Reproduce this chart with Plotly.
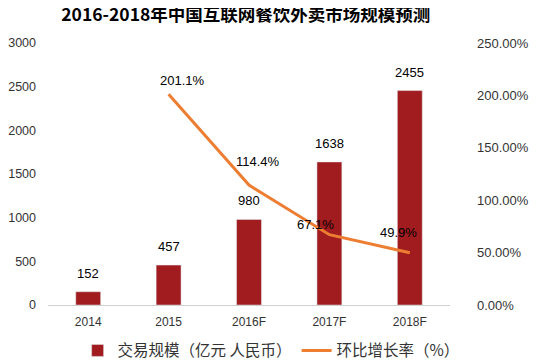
import plotly.graph_objects as go

categories = ["2014", "2015", "2016F", "2017F", "2018F"]
volume = [152, 457, 980, 1638, 2455]
growth_cats = ["2015", "2016F", "2017F", "2018F"]
growth = [201.1, 114.4, 67.1, 49.9]
growth_labels = ["201.1%", "114.4%", "67.1%", "49.9%"]
label_shift = [(14, 14), (9, 24), (-14, 10), (-11, 20)]

BAR = "#A01C1E"
LINE = "#ED7D31"
FONT = "Noto Sans CJK SC"

pos = list(range(len(categories)))
gpos = [categories.index(c) for c in growth_cats]

fig = go.Figure()
fig.add_trace(go.Bar(
    x=pos, y=volume, name="交易规模（亿元 人民币）",
    marker_color=BAR, width=0.31,
))
fig.add_trace(go.Scatter(
    x=gpos, y=growth, name="环比增长率（%）", yaxis="y2",
    mode="lines", line=dict(color=LINE, width=3),
))
for p, v in zip(pos, volume):
    fig.add_annotation(x=p, y=v, text=str(v), showarrow=False,
                       yanchor="bottom", yshift=9,
                       font=dict(size=13, color="#000000", family="Arial"))
for p, g, t, (dx, dy) in zip(gpos, growth, growth_labels, label_shift):
    fig.add_annotation(x=p, y=g, yref="y2", text=t, showarrow=False,
                       xshift=dx, yshift=dy,
                       font=dict(size=13, color="#000000", family="Arial"))

# page body has an 8px margin, so the figure is 8px smaller and margins compensate
fig.update_layout(
    width=532, height=353,
    margin=dict(l=40, r=90, t=35, b=56, autoexpand=False),
    paper_bgcolor="white", plot_bgcolor="white",
    font=dict(family=FONT, color="#333333"),
    title=dict(text="<b>2016-2018年中国互联网餐饮外卖市场规模预测</b>",
               x=0.447, xanchor="center", y=0.98, yanchor="middle",
               font=dict(size=17.5, color="#000000", family=FONT)),
    xaxis=dict(range=[-0.5, len(categories) - 0.5], tickvals=pos, ticktext=categories,
               showline=True, linecolor="#D0D0D0", linewidth=1, automargin=False,
               tickfont=dict(size=12, color="#333333", family="Arial"),
               ticks="", showgrid=False, zeroline=False, ticklabelstandoff=6),
    yaxis=dict(range=[0, 3000], dtick=500, showgrid=False, zeroline=False,
               automargin=False,
               tickfont=dict(size=12.5, color="#333333", family="Arial"),
               ticklabelstandoff=11),
    yaxis2=dict(range=[0, 250], dtick=50, overlaying="y", side="right",
                showgrid=False, zeroline=False, automargin=False,
                tickformat=".2f", ticksuffix="%",
                tickfont=dict(size=13, color="#333333", family="Arial"),
                ticklabelstandoff=26),
    showlegend=True,
    legend=dict(orientation="h", x=0.555, xanchor="center", y=-0.11, yanchor="top",
                font=dict(size=15.5, color="#333333", family=FONT)),
)
fig.write_html("out.html")
